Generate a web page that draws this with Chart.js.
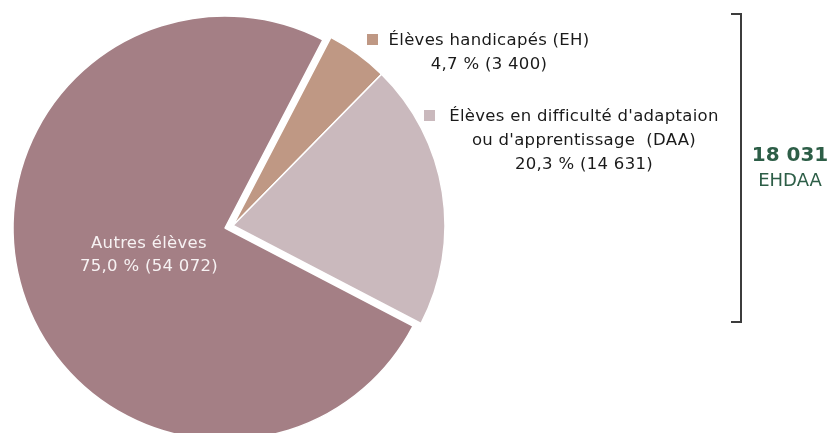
<!DOCTYPE html>
<html lang="fr">
<head>
<meta charset="utf-8">
<script src="https://cdn.jsdelivr.net/npm/chart.js@4.4.1/dist/chart.umd.min.js"></script>
<style>
  html, body { margin: 0; padding: 0; width: 831px; height: 433px; overflow: hidden; background: #fff; }
  body { position: relative; font-family: "DejaVu Sans", sans-serif; font-size: 16.5px; letter-spacing: 0.3px; color: #1a1a1a; }
  .box { position: absolute; left: 0; top: 0; }
  #backBox { width: 450px; height: 456px; }
  #frontBox { width: 466px; height: 451px; }
  .lbl { position: absolute; width: 400px; text-align: center; line-height: 24px; white-space: pre; }
  .lbl .first { position: relative; }
  .sw { position: absolute; top: 4px; width: 11px; height: 11px; }
  #autres { color: #f7f2f3; line-height: 23px; }
  .total { position: absolute; width: 120px; left: 730px; text-align: center; color: #2d5e47; white-space: pre; }
  #totalNum { font-weight: bold; font-size: 20px; line-height: 26px; top: 141px; letter-spacing: 0; }
  #totalTxt { font-size: 18px; line-height: 26px; top: 167px; letter-spacing: 0; }
  .br { position: absolute; background: #3c3c3c; }
</style>
</head>
<body>
<div class="box" id="backBox"><canvas id="back"></canvas></div>
<div class="box" id="frontBox"><canvas id="front"></canvas></div>

<div class="lbl" id="eh" style="left:289px; top:28px;"></div>
<div class="lbl" id="daa" style="left:384px; top:104px;"></div>
<div class="lbl" id="autres" style="left:-51px; top:231px;"></div>

<div class="br" style="left:740px; top:13px; width:2px; height:310px;"></div>
<div class="br" style="left:731px; top:13px; width:11px; height:2px;"></div>
<div class="br" style="left:731px; top:321px; width:11px; height:2px;"></div>
<div class="total" id="totalNum"></div>
<div class="total" id="totalTxt"></div>

<script>
const categories = ['Élèves handicapés (EH)', "Élèves en difficulté d'adaptaion\nou d'apprentissage  (DAA)", 'Autres élèves'];
const counts = [3400, 14631, 54072];
const percents = ['4,7', '20,3', '75,0'];
const colors = ['#bf9884', '#cab9bd', '#a47f85'];
const totalLabel = 'EHDAA';

const fmt = n => String(n).replace(/\B(?=(\d{3})+(?!\d))/g, ' ');

// "Autres élèves" is pulled out of the pie, so it gets its own canvas
function makePie(id, show) {
  return new Chart(document.getElementById(id), {
    type: 'pie',
    data: {
      labels: categories,
      datasets: [{
        data: counts,
        backgroundColor: colors.map((c, i) => show[i] ? c : 'rgba(0,0,0,0)'),
        borderColor: '#ffffff',
        borderWidth: show.map(s => s ? 1.5 : 0),
        radius: 212,
        rotation: 27.5
      }]
    },
    options: {
      responsive: true,
      maintainAspectRatio: false,
      animation: false,
      events: [],
      plugins: { legend: { display: false }, tooltip: { enabled: false } }
    }
  });
}

makePie('back', [false, false, true]);
makePie('front', [true, true, false]);

function fillLabel(id, i, swLeft) {
  const el = document.getElementById(id);
  const lines = categories[i].split('\n');
  let html = '';
  lines.forEach((t, k) => {
    if (k === 0 && swLeft !== null) {
      html += `<span class="first"><i class="sw" style="left:${swLeft}px;background:${colors[i]}"></i>${t}</span>`;
    } else {
      html += t;
    }
    html += '\n';
  });
  html += `${percents[i]} % (${fmt(counts[i])})`;
  el.innerHTML = html;
}

fillLabel('eh', 0, -22);
fillLabel('daa', 1, -25);
fillLabel('autres', 2, null);

document.getElementById('totalNum').textContent = fmt(counts[0] + counts[1]);
document.getElementById('totalTxt').textContent = totalLabel;
</script>
</body>
</html>
